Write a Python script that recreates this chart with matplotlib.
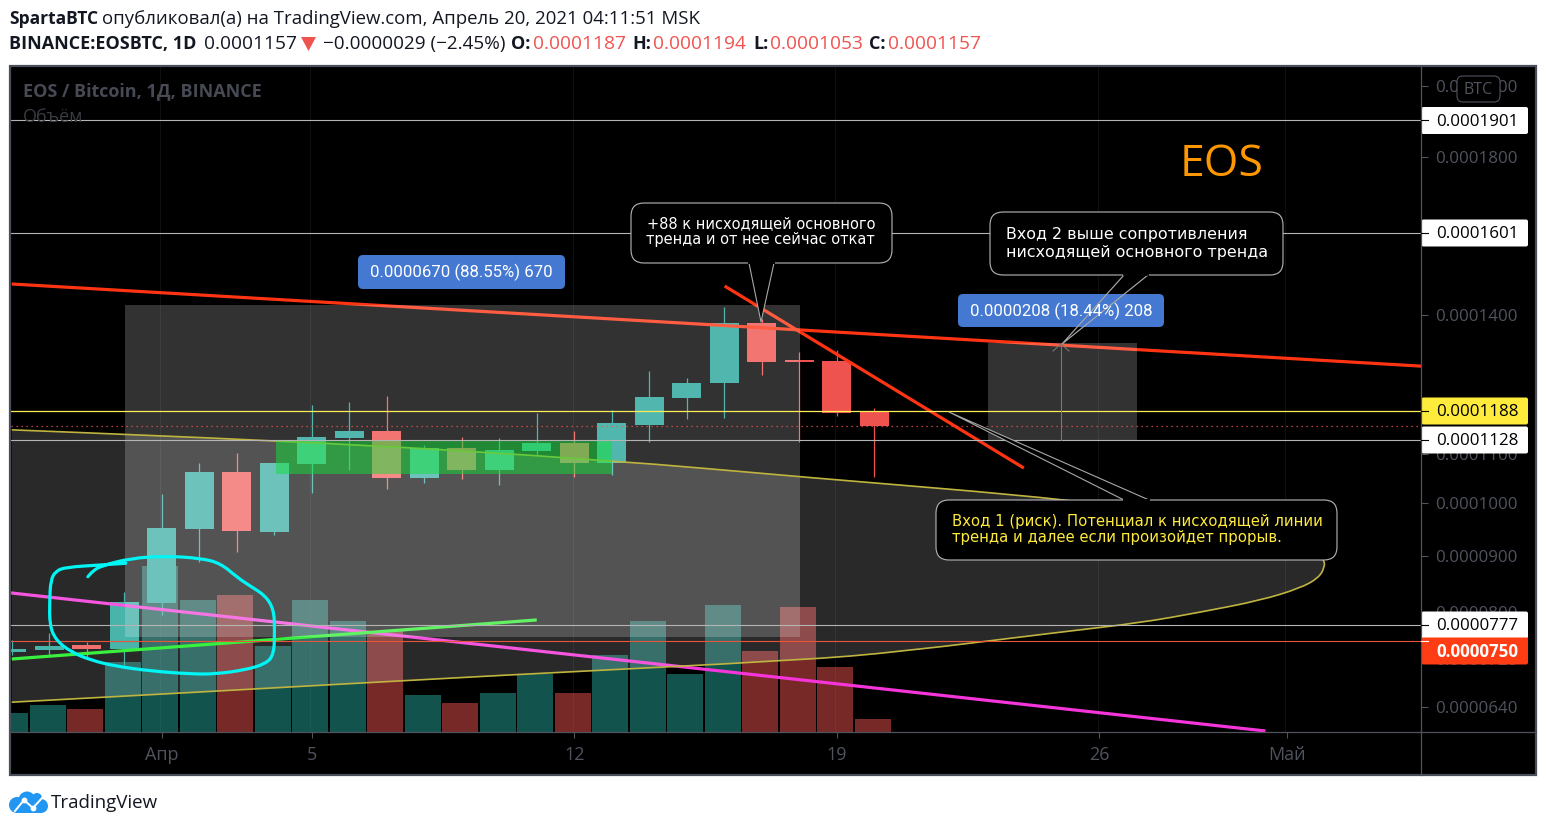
import numpy as np
import matplotlib
matplotlib.use("Agg")
import matplotlib.pyplot as plt
from matplotlib.patches import FancyBboxPatch, Rectangle, Polygon, Circle, PathPatch
from matplotlib.path import Path

# price unit is 1e-7 BTC, days counted from 1 April
days = [-4, -3, -2, -1, 0, 1, 2, 3, 4, 5, 6, 7, 8, 9, 10, 11, 12, 13, 14, 15, 16, 17, 18, 19]
opens = [732, 735, 743, 737, 816, 951, 1063, 945, 1079, 1132, 1146, 1051, 1112, 1067, 1106, 1122, 1081, 1159, 1217, 1250, 1383, 1301, 1298, 1187]
highs = [752, 763, 748, 836, 1018, 1081, 1102, 1082, 1201, 1208, 1221, 1118, 1134, 1132, 1184, 1146, 1190, 1276, 1261, 1420, 1392, 1318, 1323, 1194]
lows = [727, 727, 723, 710, 795, 889, 908, 939, 1020, 1067, 1028, 1041, 1049, 1037, 1098, 1053, 1057, 1124, 1171, 1174, 1267, 1124, 1178, 1053]
closes = [737, 742, 737, 818, 953, 1063, 947, 1081, 1134, 1146, 1051, 1112, 1067, 1108, 1122, 1081, 1163, 1219, 1250, 1383, 1296, 1296, 1184, 1157]
volumes = [19, 27, 23, 70, 166, 132, 137, 86, 132, 111, 101, 37, 29, 39, 58, 39, 77, 111, 58, 127, 81, 125, 65, 13]

# price axis of the picture is neither linear nor log, so it is given by its labels
scale_prices = [400, 598, 640, 750, 777, 900, 1000, 1128, 1188, 1400, 1601, 1800, 1901, 2000, 2057, 3000]
scale_pos = [-1132, -732, -707, -641, -625, -556, -503, -440, -411, -315, -233, -157, -120.5, -86, -66, 262]
price_ticks = [640, 720, 800, 900, 1000, 1100, 1400, 1800, 2000]
day_ticks = [0, 4, 11, 18, 25, 30]
day_labels = ["Апр", "5", "12", "19", "26", "Май"]

level_white = [1901, 1601, 1128, 777]
level_yellow = 1188
level_red = 750
last_close = 1157

trend_red_d, trend_red_p = [-4, 33.6], [1476, 1287]
steep_red_d, steep_red_p = [15.01, 22.99], [1471, 1071]
pink_d, pink_p = [-4, 29.39], [834, 600]
green_d, green_p = [-4, 10], [720, 786]

ellipse_d = [-4, 3.71, 12, 17.04, 24.51, 29.04, 30.64, 31.0, 31.01, 30.85, 30.37, 29.31, 27.71, 26.11, 23.97, 19.71, 17.04, 9.04, 1.04, -4]
ellipse_p = [1149, 1126, 1087, 1053, 1006, 958, 921, 893, 880, 861, 843, 821, 800, 781, 765, 732, 718, 693, 665, 648]
cyan_d = [-0.96, -1.63, -2.56, -2.83, -2.96, -2.99, -2.99, -2.83, -2.43, -1.89, -1.23, -0.29, 0.77, 1.44, 2.24, 2.77, 2.99, 3.01, 2.99, 2.77, 2.37, 2.03, 1.57, 1.04, 0.11, -0.83, -1.63, -1.84, -1.97]
cyan_p = [887, 884, 880, 873, 857, 821, 777, 752, 732, 718, 708, 700, 695, 695, 702, 712, 727, 768, 804, 829, 846, 861, 887, 896, 900, 896, 882, 873, 863]

range1_d, range1_p = [-0.99, 17.01], [757, 1424]
range2_d, range2_p = [22.03, 26.0], [1128, 1338]
green_box_d, green_box_p = [3.04, 12.0], [1059, 1126]

TEAL = "#26a69a"
RED = "#ef5350"
GREY = "#50535e"
UI_FONT = "Open Sans"

W, H = 1546, 830


def forward(p):
    return np.interp(p, scale_prices, scale_pos)


def inverse(y):
    return np.interp(y, scale_pos, scale_prices)


def smooth_path(xs, ys):
    # quadratic curves through the midpoints, the listed points act as control points
    verts = [(xs[0], ys[0])]
    codes = [Path.MOVETO]
    for i in range(1, len(xs) - 1):
        verts.append((xs[i], ys[i]))
        verts.append(((xs[i] + xs[i + 1]) / 2, (ys[i] + ys[i + 1]) / 2))
        codes += [Path.CURVE3, Path.CURVE3]
    verts.append((xs[-1], ys[-1]))
    codes.append(Path.LINETO)
    return Path(verts, codes)


fig = plt.figure(figsize=(W / 100, H / 100), dpi=100, facecolor="white")

base = fig.add_axes([0, 0, 1, 1], zorder=0)
base.set_xlim(0, W)
base.set_ylim(H, 0)
base.axis("off")
base.add_patch(Rectangle((10, 66), 1526, 709, fc="black", ec="none"))

rect = [11 / W, (H - 732) / H, 1410 / W, 666 / H]
vol = fig.add_axes(rect, zorder=1, facecolor="black")
ax = fig.add_axes(rect, zorder=2)
ax.patch.set_visible(False)

# volume
bar_colors = [TEAL if c >= o else RED for o, c in zip(opens, closes)]
for d in day_ticks:
    vol.axvline(d, color="#0f0f0f", lw=0.8, zorder=0)
vol.bar(days, volumes, width=0.96, color=bar_colors, alpha=0.5, linewidth=0, zorder=1)
vol.set_xlim(-3.98, 33.62)
vol.set_ylim(0, 666)
vol.axis("off")

ax.set_yscale("function", functions=(forward, inverse))
ax.set_xlim(-4.02, 33.58)
ax.set_ylim(598, 2057)

# candles
for d, o, h, l, c, col in zip(days, opens, highs, lows, closes, bar_colors):
    ax.plot([d, d], [l, h], color=col, lw=0.9, zorder=2, solid_capstyle="butt")
    ax.fill_between([d - 0.385, d + 0.385], min(o, c), max(o, c), color=col, lw=0, zorder=2)

# drawings
ax.plot(trend_red_d, trend_red_p, color="#ff3413", lw=2.3, zorder=3, solid_capstyle="butt")
ax.plot(steep_red_d, steep_red_p, color="#ff3413", lw=2.3, zorder=3, solid_capstyle="butt")
ax.plot(pink_d, pink_p, color="#f534d9", lw=2.3, zorder=3)
ax.plot(green_d, green_p, color="#14ee18", lw=2.3, zorder=3, solid_capstyle="butt")

ax.fill_between(range1_d, range1_p[0], range1_p[1], color="white", alpha=0.2, lw=0, zorder=4)
ax.fill_between(range2_d, range2_p[0], range2_p[1], color="white", alpha=0.2, lw=0, zorder=4)
ellipse_path = smooth_path(ellipse_d, ellipse_p)
ax.add_patch(PathPatch(ellipse_path, fc="white", alpha=0.165, lw=0, zorder=4))
ax.add_patch(PathPatch(ellipse_path, fc="none", ec="#c0b440", lw=1.2, zorder=4.5))
ax.fill_between(green_box_d, green_box_p[0], green_box_p[1], color=(0.07, 0.88, 0.22), alpha=0.5, lw=0, zorder=4.5)
ax.add_patch(PathPatch(smooth_path(cyan_d, cyan_p), fc="none", ec="#00f5f5", lw=2.3, zorder=6, capstyle="round", joinstyle="round"))

# price levels
for lv in level_white:
    ax.axhline(lv, color="#b4b4b4", lw=0.8, zorder=5)
ax.axhline(level_yellow, color="#ffee58", lw=0.9, zorder=5)
ax.axhline(level_red, color="#e8553a", lw=0.8, zorder=5)
ax.axhline(last_close, color="#ef5350", lw=0.9, ls=(0, (1, 3)), zorder=5)

# axis cosmetics
ax.yaxis.tick_right()
ax.set_yticks(price_ticks)
ax.set_yticklabels(["%.7f" % (p * 1e-7) for p in price_ticks], fontfamily=UI_FONT, fontsize=12.2)
ax.yaxis.set_minor_locator(matplotlib.ticker.NullLocator())
ax.set_xticks(day_ticks)
ax.set_xticklabels(day_labels, fontfamily=UI_FONT, fontsize=13)
ax.tick_params(axis="y", colors=GREY, length=5, width=0.8, pad=5.5)
ax.tick_params(axis="x", colors=GREY, length=4.5, width=0.8, pad=5.5)
for s in ax.spines.values():
    s.set_visible(False)

# everything below is page furniture, placed in pixels
ov = fig.add_axes([0, 0, 1, 1], zorder=3)
ov.set_xlim(0, W)
ov.set_ylim(H, 0)
ov.axis("off")
ov.patch.set_visible(False)

ov.plot([1421, 1421], [66, 775], color=GREY, lw=0.9)
ov.plot([11, 1536], [732, 732], color=GREY, lw=0.9)
ov.add_patch(Rectangle((10, 66), 1526, 709, fc="none", ec="#4a4d5a", lw=1.6))


def txt(x, y, s, **kw):
    kw.setdefault("va", "center")
    kw.setdefault("ha", "left")
    kw.setdefault("family", UI_FONT)
    return ov.text(x, y, s, **kw)


# header
txt(9, 19, "SpartaBTC", fontsize=12.5, weight="bold", color="#131722")
txt(102, 19, "опубликовал(а) на TradingView.com, Апрель 20, 2021 04:11:51 MSK", fontsize=13.45, color="#131722")
txt(9, 44, "BINANCE:EOSBTC, 1D", fontsize=13, weight="bold", color="#131722")
txt(204, 44, "0.0001157", fontsize=13.8, color="#131722")
ov.add_patch(Polygon([(301, 37), (316, 37), (308.5, 51)], fc="#ef5350", ec="none"))
txt(323, 44, "−0.0000029 (−2.45%)", fontsize=13.6, color="#131722")
for x_l, lab, x_v, val in [(511, "O:", 533, "0.0001187"), (632, "H:", 653, "0.0001194"),
                           (753, "L:", 770, "0.0001053"), (869, "C:", 888, "0.0001157")]:
    txt(x_l, 44, lab, fontsize=13, weight="bold", color="#131722")
    txt(x_v, 44, val, fontsize=13.8, color="#ef5350")

# chart titles
txt(23, 91, "EOS / Bitcoin, 1Д, BINANCE", fontsize=13, weight="bold", color="#474a55")
txt(23, 117, "Объём", fontsize=13, color="#3a3c44")
txt(1180, 165, "EOS", fontsize=32, color="#ff9800")

# BTC button
ov.add_patch(FancyBboxPatch((1457, 76), 43, 26, boxstyle="round,pad=0,rounding_size=6", fc="black", ec=GREY, lw=0.8))
txt(1478.5, 90, "BTC", ha="center", fontsize=11.5, color=GREY)

# price tags
tags = [(120.5, 120.5, "0.0001901", "white", "black", "normal"),
        (233, 233, "0.0001601", "white", "black", "normal"),
        (411, 411, "0.0001188", "#ffeb3b", "black", "normal"),
        (440, 440, "0.0001128", "white", "black", "normal"),
        (625, 625, "0.0000777", "white", "black", "normal"),
        (651, 641, "0.0000750", "#ff3d14", "white", "bold")]
for yc, ytick, s, fc, tc, w in tags:
    ov.add_patch(FancyBboxPatch((1421.5, yc - 13.5), 106.5, 27, boxstyle="round,pad=0,rounding_size=2", fc=fc, ec="none"))
    ov.plot([1421, 1428], [ytick, ytick], color=tc, lw=0.8)
    txt(1477, yc + 1, s, ha="center", fontsize=12.2, color=tc, weight=w)


def callout(x0, y0, x1, y1, tail):
    ov.add_patch(FancyBboxPatch((x0, y0), x1 - x0, y1 - y0, boxstyle="round,pad=0,rounding_size=13",
                                fc="black", ec="#b8b8b8", lw=0.8))
    (a, ya), (b, yb), tip = tail
    ov.add_patch(Polygon([(a, ya), (b, yb), tip], fc="black", ec="none"))
    ov.plot([a, tip[0], b], [ya, tip[1], yb], color="#a8a8a8", lw=0.8)
    ov.plot([a, b], [ya, yb], color="black", lw=1.4)


callout(631, 203, 892, 263, ((749, 263), (774, 263), (761, 322)))
txt(647, 224, "+88 к нисходящей основного", family="DejaVu Sans", fontsize=10.5, color="white")
txt(646, 239, "тренда и от нее сейчас откат", family="DejaVu Sans", fontsize=10.5, color="white")

tail2 = ((1124, 275), (1148, 275), (1062, 344))
callout(990, 212, 1283, 275, tail2)
txt(1006, 234, "Вход 2 выше сопротивления", family="DejaVu Sans", fontsize=11.4, color="white")
txt(1006, 252, "нисходящей основного тренда", family="DejaVu Sans", fontsize=11.4, color="white")

callout(936, 500, 1337, 560, ((1124, 500), (1149, 500), (949, 412)))
txt(952, 521, "Вход 1 (риск). Потенциал к нисходящей линии", family="DejaVu Sans", fontsize=10.7, color="#ffeb3b")
txt(952, 537, "тренда и далее если произойдет прорыв.", family="DejaVu Sans", fontsize=10.7, color="#ffeb3b")

# measure arrow in the second range
ov.plot([1061, 1061], [344, 440], color="#777777", lw=0.8)
ov.plot([1053, 1061, 1069], [351, 344, 351], color="#777777", lw=0.8)

# blue range labels
for x0, y0, x1, y1, s in [(358, 255, 565, 289, "0.0000670 (88.55%) 670"), (958, 294, 1164, 327, "0.0000208 (18.44%) 208")]:
    ov.add_patch(FancyBboxPatch((x0, y0), x1 - x0, y1 - y0, boxstyle="round,pad=0,rounding_size=5", fc="#4478d1", ec="none"))
    txt((x0 + x1) / 2, (y0 + y1) / 2 + 0.5, s, ha="center", family="Roboto", fontsize=12.05, color="white")
# callout tail shows faintly through the label
ov.plot([tail2[0][0], tail2[2][0], tail2[1][0]], [tail2[0][1], tail2[2][1], tail2[1][1]], color="#a8a8a8", lw=0.8, alpha=0.25)

# logo
for cx, cy, r in [(17, 805, 8), (27, 800, 8.5), (37, 798, 5), (41, 806, 7)]:
    ov.add_patch(Circle((cx, cy), r, fc="#2196f3", ec="none"))
ov.add_patch(Rectangle((17, 805), 24, 8, fc="#2196f3", ec="none"))
ov.plot([15, 24, 33, 42], [811, 800, 808, 798], color="white", lw=1.4)
ov.plot([24, 33], [800, 808], "o", color="white", ms=3.2)
txt(51, 803, "TradingView", fontsize=13.5, color="#131722")

fig.savefig("out.png", dpi=100, facecolor="white")
